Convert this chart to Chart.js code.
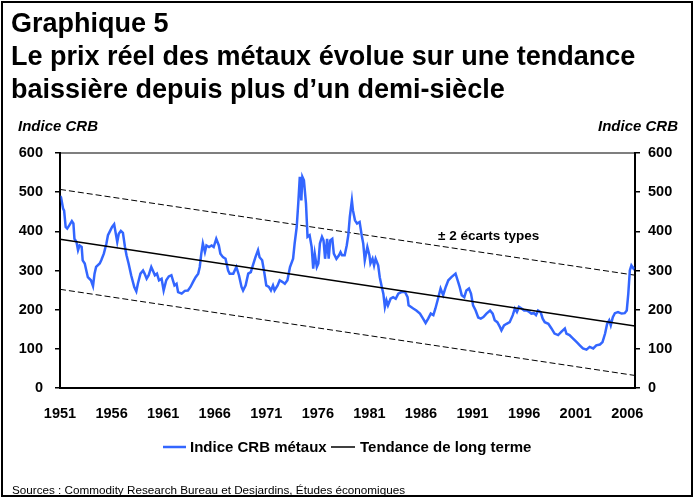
<!DOCTYPE html>
<html>
<head>
<meta charset="utf-8">
<script src="https://cdn.jsdelivr.net/npm/chart.js@4"></script>
<style>
  html, body { margin: 0; padding: 0; background: #fff; }
  #wrap { width: 699px; height: 499px; }
</style>
</head>
<body>
<div id="wrap"><canvas id="crbChart" width="699" height="499"></canvas></div>
<script>
// Indice CRB métaux (valeurs réelles)
const annees = [
  1951.0, 1951.1, 1951.3, 1951.4, 1951.55, 1951.7, 1951.9, 1952.15, 1952.3, 1952.4, 1952.6, 1952.75, 1952.9,
  1953.1, 1953.2, 1953.4, 1953.55, 1953.7, 1954.0, 1954.2, 1954.35, 1954.5, 1954.85, 1955.0, 1955.25, 1955.5,
  1955.65, 1955.8, 1956.05, 1956.25, 1956.35, 1956.55, 1956.7, 1956.9, 1957.1, 1957.3, 1957.45, 1957.65, 1957.9,
  1958.2, 1958.4, 1958.55, 1958.8, 1959.05, 1959.2, 1959.4, 1959.6, 1959.85, 1960.0, 1960.2, 1960.4, 1960.6,
  1960.85, 1961.05, 1961.3, 1961.55, 1961.8, 1961.95, 1962.1, 1962.3, 1962.45, 1962.8, 1963.1, 1963.4, 1963.65,
  1963.9, 1964.15, 1964.4, 1964.55, 1964.7, 1964.85, 1965.05, 1965.2, 1965.45, 1965.7, 1965.9, 1966.15, 1966.4,
  1966.55, 1966.8, 1967.05, 1967.3, 1967.45, 1967.8, 1968.1, 1968.35, 1968.6, 1968.75, 1969.0, 1969.25, 1969.5,
  1969.7, 1969.95, 1970.2, 1970.35, 1970.6, 1970.8, 1971.0, 1971.25, 1971.45, 1971.65, 1971.8, 1972.1, 1972.3,
  1972.55, 1972.8, 1973.05, 1973.3, 1973.6, 1973.75, 1973.95, 1974.1, 1974.25, 1974.4, 1974.5, 1974.65, 1974.85,
  1975.0, 1975.2, 1975.4, 1975.55, 1975.7, 1975.9, 1976.05, 1976.2, 1976.4, 1976.55, 1976.7, 1976.9, 1977.05,
  1977.2, 1977.4, 1977.55, 1977.8, 1978.05, 1978.2, 1978.35, 1978.6, 1978.8, 1978.95, 1979.1, 1979.3, 1979.4,
  1979.6, 1979.8, 1980.05, 1980.25, 1980.4, 1980.55, 1980.8, 1981.0, 1981.1, 1981.3, 1981.45, 1981.6, 1981.85,
  1982.0, 1982.2, 1982.35, 1982.5, 1982.65, 1982.8, 1983.05, 1983.3, 1983.55, 1983.8, 1984.1, 1984.45, 1984.7,
  1984.8, 1985.25, 1985.55, 1985.9, 1986.2, 1986.45, 1986.7, 1986.95, 1987.2, 1987.4, 1987.65, 1987.9, 1988.15,
  1988.4, 1988.65, 1988.95, 1989.35, 1989.6, 1989.75, 1989.95, 1990.2, 1990.4, 1990.65, 1990.85, 1991.05, 1991.3,
  1991.55, 1991.8, 1992.05, 1992.35, 1992.7, 1992.95, 1993.15, 1993.4, 1993.65, 1993.8, 1994.05, 1994.3, 1994.6,
  1994.9, 1995.1, 1995.3, 1995.5, 1995.75, 1996.0, 1996.25, 1996.5, 1996.7, 1996.95, 1997.15, 1997.35, 1997.6,
  1997.8, 1998.0, 1998.35, 1998.65, 1998.95, 1999.3, 1999.6, 1999.95, 2000.1, 2000.4, 2000.75, 2001.1, 2001.4,
  2001.7, 2002.05, 2002.35, 2002.7, 2003.0, 2003.35, 2003.6, 2003.85, 2004.05, 2004.25, 2004.4, 2004.6, 2004.8,
  2005.1, 2005.45, 2005.75, 2005.95, 2006.1, 2006.25, 2006.4, 2006.6, 2006.72
];
const indiceCRB = [
  490, 487, 458, 453, 411, 407, 415, 426, 420, 381, 373, 352, 364,
  360, 326, 318, 300, 283, 275, 260, 292, 309, 318, 326, 343, 369,
  390, 398, 411, 418, 403, 373, 394, 401, 396, 360, 339, 318, 288,
  258, 247, 266, 292, 300, 292, 279, 288, 309, 300, 288, 292, 275,
  279, 249, 275, 285, 288, 275, 262, 266, 245, 241, 248, 249, 258,
  271, 283, 292, 309, 343, 369, 347, 364, 360, 364, 360, 381, 364,
  343, 334, 330, 300, 292, 292, 309, 288, 258, 249, 262, 292, 296,
  313, 334, 352, 334, 326, 296, 262, 258, 249, 262, 249, 262, 275,
  271, 266, 275, 309, 330, 369, 411, 471, 539, 479, 539, 530, 471,
  386, 390, 360, 305, 343, 309, 318, 369, 386, 377, 330, 381, 330,
  377, 381, 343, 330, 339, 347, 339, 339, 364, 390, 437, 479, 454,
  428, 420, 424, 390, 369, 326, 360, 339, 318, 330, 313, 330, 313,
  283, 258, 241, 207, 224, 211, 228, 232, 228, 241, 245, 245, 232,
  211, 203, 198, 190, 177, 166, 177, 190, 186, 203, 228, 254, 237,
  258, 275, 283, 292, 271, 258, 237, 232, 249, 254, 241, 211, 198,
  180, 177, 181, 190, 198, 190, 173, 168, 156, 147, 160, 164, 168,
  186, 203, 194, 207, 203, 198, 198, 194, 190, 191, 186, 198, 194,
  177, 168, 164, 152, 139, 135, 143, 152, 139, 135, 126, 117, 109,
  101, 98, 105, 101, 109, 111, 117, 139, 164, 173, 160, 181, 191,
  194, 190, 191, 198, 241, 300, 313, 305, 309
];

// Tendance de long terme et ± 2 écarts types
const anneesTendance = [1951, 2006.75];
const tendance = [380, 158];
const bandeHaute = [507, 288];
const bandeBasse = [252, 32];

const etiquettesAnnees = [1951, 1956, 1961, 1966, 1971, 1976, 1981, 1986, 1991, 1996, 2001, 2006];
const graduationsY = [0, 100, 200, 300, 400, 500, 600];

const FONT = '"Liberation Sans", Arial, sans-serif';
const toPoints = (xs, ys) => xs.map((x, i) => ({ x: x, y: ys[i] }));

const decorPlugin = {
  id: 'decor',
  afterDraw(chart) {
    const ctx = chart.ctx;
    const area = chart.chartArea;
    ctx.save();

    // cadre du graphique
    ctx.strokeStyle = '#000';
    ctx.lineWidth = 1;
    ctx.strokeRect(area.left, area.top, area.right - area.left, area.bottom - area.top);

    // cadre extérieur
    ctx.lineWidth = 2;
    ctx.strokeRect(2, 2, 690, 494);

    // titres
    ctx.fillStyle = '#000';
    ctx.textBaseline = 'alphabetic';
    ctx.textAlign = 'left';
    ctx.font = 'bold 27px ' + FONT;
    ctx.fillText('Graphique 5', 11, 32);
    ctx.fillText('Le prix réel des métaux évolue sur une tendance', 11, 65);
    ctx.fillText('baissière depuis plus d’un demi-siècle', 11, 98);

    ctx.font = 'italic bold 15px ' + FONT;
    ctx.fillText('Indice CRB', 18, 131);
    ctx.textAlign = 'right';
    ctx.fillText('Indice CRB', 678, 131);

    // annotation
    ctx.textAlign = 'left';
    ctx.font = 'bold 13.5px ' + FONT;
    ctx.fillText('± 2 écarts types', 438, 240);

    // légende
    ctx.font = 'bold 15px ' + FONT;
    ctx.strokeStyle = '#3366ff';
    ctx.lineWidth = 2.5;
    ctx.beginPath(); ctx.moveTo(163, 447); ctx.lineTo(186, 447); ctx.stroke();
    ctx.fillText('Indice CRB métaux', 190, 452);
    ctx.strokeStyle = '#000';
    ctx.lineWidth = 1.5;
    ctx.beginPath(); ctx.moveTo(331, 447); ctx.lineTo(355, 447); ctx.stroke();
    ctx.fillText('Tendance de long terme', 360, 452);

    // source
    ctx.font = '11.7px ' + FONT;
    ctx.fillText('Sources : Commodity Research Bureau et Desjardins, Études économiques', 12, 494);
    ctx.restore();
  }
};

const yAxisCommon = {
  type: 'linear',
  min: 0,
  max: 600,
  afterBuildTicks: (scale) => { scale.ticks = graduationsY.map(v => ({ value: v })); },
  grid: { drawOnChartArea: false, tickLength: 5, color: '#000', lineWidth: 1.5 },
  border: { color: '#000', width: 2 },
  ticks: { color: '#000', font: { family: FONT, size: 14.5, weight: 'bold' } }
};

new Chart(document.getElementById('crbChart'), {
  type: 'line',
  data: {
    datasets: [
      {
        label: 'Tendance de long terme',
        data: toPoints(anneesTendance, tendance),
        borderColor: '#000',
        borderWidth: 1.5,
        pointRadius: 0,
        order: 0
      },
      {
        label: 'Indice CRB métaux',
        data: toPoints(annees, indiceCRB),
        borderColor: '#3366ff',
        borderWidth: 2.5,
        pointRadius: 0,
        tension: 0,
        order: 1
      },
      {
        label: '+2 écarts types',
        data: toPoints(anneesTendance, bandeHaute),
        borderColor: '#000',
        borderWidth: 1,
        borderDash: [6, 3],
        pointRadius: 0,
        order: 2
      },
      {
        label: '-2 écarts types',
        data: toPoints(anneesTendance, bandeBasse),
        borderColor: '#000',
        borderWidth: 1,
        borderDash: [6, 3],
        pointRadius: 0,
        order: 2
      }
    ]
  },
  options: {
    responsive: false,
    animation: false,
    devicePixelRatio: 1,
    layout: { padding: { top: 153, bottom: 81, left: 0, right: 0 } },
    plugins: {
      legend: { display: false },
      title: { display: false },
      tooltip: { enabled: false }
    },
    scales: {
      x: {
        type: 'linear',
        min: 1951,
        max: 2006.75,
        afterBuildTicks: (scale) => { scale.ticks = etiquettesAnnees.map(v => ({ value: v })); },
        afterFit: (scale) => { scale.height = 30; },
        grid: { drawOnChartArea: false, drawTicks: false },
        border: { color: '#000', width: 2 },
        ticks: {
          padding: 17,
          color: '#000',
          maxRotation: 0,
          autoSkip: false,
          font: { family: FONT, size: 14.5, weight: 'bold' },
          callback: (v) => String(v)
        }
      },
      y: Object.assign({}, yAxisCommon, {
        position: 'left',
        afterFit: (scale) => { scale.width = 60; },
        ticks: Object.assign({}, yAxisCommon.ticks, { padding: 12 })
      }),
      y2: Object.assign({}, yAxisCommon, {
        position: 'right',
        afterFit: (scale) => { scale.width = 64; },
        ticks: Object.assign({}, yAxisCommon.ticks, { padding: 8 })
      })
    }
  },
  plugins: [decorPlugin]
});
</script>
</body>
</html>
